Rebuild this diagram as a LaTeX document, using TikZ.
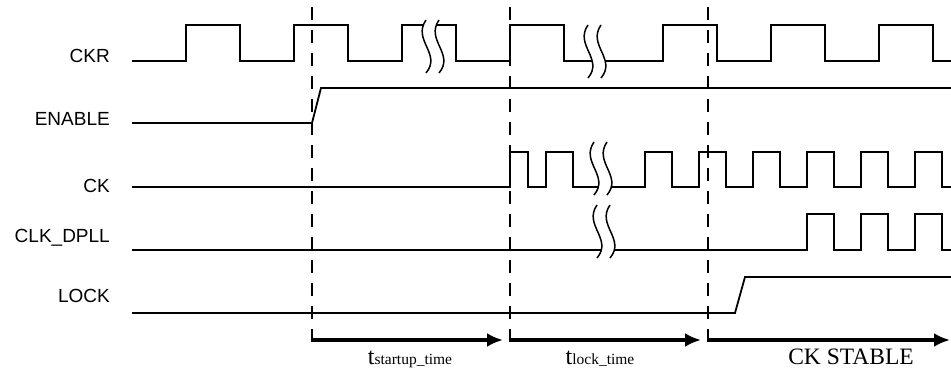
\documentclass[tikz,border=0pt]{standalone}
\usepackage{fontspec}
\setmainfont{Liberation Serif}
\newfontfamily\sigfont{Liberation Sans}
\usetikzlibrary{arrows.meta}

\begin{document}
\begin{tikzpicture}[x=1pt, y=-1pt,
  sig/.style={line width=1.8pt},
  brk/.style={line width=1.5pt},
  guide/.style={line width=2pt, dash pattern=on 13pt off 10pt},
  span/.style={line width=4pt, -{Latex[length=16pt,width=14pt]}},
  lbl/.style={anchor=base east, inner sep=0pt, font=\sigfont\fontsize{19}{19}\selectfont},
  tlbl/.style={anchor=base, inner sep=0pt, font=\fontsize{24}{24}\selectfont}]
\useasboundingbox (0,0) rectangle (951,370);

% Signal names
\node[lbl] (ckr) at (110,62) {CKR};
\node[lbl] (enable) at (110,125) {ENABLE};
\node[lbl] (ck) at (110,192) {CK};
\node[lbl] (dpll) at (110,242) {CLK\_DPLL};
\node[lbl] (lock) at (110,302) {LOCK};

% CKR
\draw[sig] (132,61) \foreach \x in {186,294,402,510} {-- (\x,61) -- (\x,25) -- ({\x+54},25) -- ({\x+54},61)}
  \foreach \x in {663,771,879} {-- (\x,61) -- (\x,25) -- ({\x+54},25) -- ({\x+54},61)} -- (951,61);

% ENABLE
\draw[sig] (132,123) -- (312,123) -- (321,88) -- (951,88);

% CK
\draw[sig] (132,187) -- (510,187) -- (510,152) -- (528,152) -- (528,187) -- (546,187) -- (546,152) -- (573,152) -- (573,187)
  \foreach \x in {645,699,...,915} {-- (\x,187) -- (\x,152) -- ({\x+27},152) -- ({\x+27},187)} -- (951,187);

% CLK_DPLL
\draw[sig] (132,250) \foreach \x in {807,861,915} {-- (\x,250) -- (\x,214) -- ({\x+27},214) -- ({\x+27},250)} -- (951,250);

% LOCK
\draw[sig] (132,313) -- (735,313) -- (745,277) -- (951,277);

% Breaks
\foreach \bx/\by in {422/20, 584/25, 590/142, 593/205} {
  \fill[white] ({\bx+4},\by) .. controls ({\bx-10},{\by+20}) and ({\bx+20},{\by+34}) .. ({\bx+4},{\by+53})
    -- ({\bx+17},{\by+53}) .. controls ({\bx+33},{\by+34}) and ({\bx+3},{\by+20}) .. ({\bx+17},\by) -- cycle;
  \draw[brk] ({\bx+4},\by) .. controls ({\bx-10},{\by+20}) and ({\bx+20},{\by+34}) .. ({\bx+4},{\by+53});
  \draw[brk] ({\bx+17},\by) .. controls ({\bx+3},{\by+20}) and ({\bx+33},{\by+34}) .. ({\bx+17},{\by+53});
}

% Time marks
\foreach \x [count=\i] in {312,510,708} {
  \draw[guide] (\x,7) -- (\x,349);
  \coordinate (m\i) at (\x,340);
}
\coordinate (mend) at (950,340);

\draw[span, shorten >=7pt] (m1) -- (m2);
\draw[span, shorten >=7pt] (m2) -- (m3);
\draw[span] (m3) -- (mend);

\node[tlbl] (tstart) at (410,364) {t{\fontsize{15.5}{15.5}\selectfont startup\_time}};
\node[tlbl] (tlock) at (600,364) {t{\fontsize{15.5}{15.5}\selectfont lock\_time}};
\node[tlbl] (stable) at (851,364) {\fontsize{23.5}{23.5}\selectfont CK STABLE};

\end{tikzpicture}
\end{document}
